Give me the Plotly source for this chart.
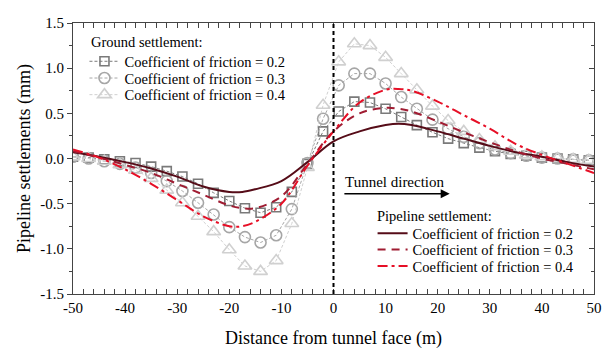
import plotly.graph_objects as go

# ---------------- data ----------------
ground_x = list(range(-50, 50, 3))  # -50, -47, ..., 49

ground_02 = [0.02, 0.01, -0.01, -0.03, -0.05, -0.09, -0.14, -0.20, -0.28, -0.38,
             -0.47, -0.55, -0.60, -0.54, -0.37, -0.06, 0.30, 0.52, 0.63, 0.62,
             0.55, 0.46, 0.37, 0.29, 0.22, 0.17, 0.12, 0.08, 0.05, 0.03,
             0.01, 0.00, -0.01, -0.02]
ground_03 = [0.02, 0.00, -0.03, -0.06, -0.10, -0.16, -0.25, -0.36, -0.49, -0.62,
             -0.76, -0.87, -0.93, -0.85, -0.56, -0.05, 0.44, 0.81, 0.94, 0.94,
             0.83, 0.68, 0.55, 0.43, 0.33, 0.24, 0.17, 0.10, 0.06, 0.03,
             0.01, 0.00, -0.01, -0.02]
ground_04 = [0.02, 0.00, -0.03, -0.07, -0.13, -0.22, -0.35, -0.49, -0.64, -0.81,
             -1.01, -1.19, -1.25, -1.13, -0.72, -0.10, 0.59, 1.07, 1.27, 1.25,
             1.12, 0.94, 0.76, 0.58, 0.42, 0.30, 0.21, 0.13, 0.08, 0.04,
             0.02, 0.00, -0.01, -0.02]

pipe_x = [-50, -45, -40, -35, -30, -25, -20, -17.5, -15, -10, -5, 0, 5, 10, 12.5, 15,
          20, 25, 30, 35, 40, 45, 50]
pipe_02 = [0.07, 0.02, -0.04, -0.11, -0.20, -0.31, -0.37, -0.37, -0.34, -0.25, -0.04,
           0.19, 0.30, 0.37, 0.385, 0.37, 0.30, 0.22, 0.14, 0.07, 0.02, -0.04, -0.09]
pipe_03 = [0.08, 0.01, -0.07, -0.16, -0.28, -0.40, -0.52, -0.55, -0.55, -0.42, -0.06,
           0.30, 0.50, 0.56, 0.55, 0.52, 0.41, 0.29, 0.18, 0.08, 0.00, -0.06, -0.12]
pipe_04 = [0.10, 0.01, -0.12, -0.28, -0.46, -0.64, -0.75, -0.75, -0.70, -0.50, -0.08,
           0.30, 0.62, 0.76, 0.77, 0.75, 0.63, 0.48, 0.33, 0.16, 0.04, -0.06, -0.16]

x_ticks = [-50, -40, -30, -20, -10, 0, 10, 20, 30, 40, 50]
x_tick_labels = ["-50", "-40", "-30", "-20", "-10", "0", "10", "20", "30", "40", "50"]
y_ticks = [-1.5, -1.0, -0.5, 0.0, 0.5, 1.0, 1.5]
y_tick_labels = ["-1.5", "-1.0", "-0.5", "0.0", "0.5", "1.0", "1.5"]

FONT = "Liberation Serif"
LEG_SIZE = 14.5

fig = go.Figure()

# one single-entry legend per series so the entries can be spaced like the original
ground_specs = [
    (ground_02, "Coefficient of friction = 0.2", "square-open", "#7a7a7a", 9, "legend", 0.8585),
    (ground_03, "Coefficient of friction = 0.3", "circle-open", "#a6a6a6", 11, "legend3", 0.7967),
    (ground_04, "Coefficient of friction = 0.4", "triangle-up-open", "#d0d0d0", 12, "legend4", 0.7353),
]
pipe_specs = [
    (pipe_02, "Coefficient of friction = 0.2", "solid", "#560c18", "legend2", 0.2243),
    (pipe_03, "Coefficient of friction = 0.3", "8px,6px", "#a01c32", "legend5", 0.1636),
    (pipe_04, "Coefficient of friction = 0.4", "10px,4px,3px,4px", "#e60f26", "legend6", 0.1029),
]

legend_layouts = {}
for ys, name, sym, col, sz, lg, ly in ground_specs:
    fig.add_trace(go.Scatter(
        x=ground_x, y=ys, name=name, mode="lines+markers",
        line=dict(color=col, width=1, dash="3px,2px"),
        marker=dict(symbol=sym, size=sz, color=col, line=dict(color=col, width=1.6)),
        legend=lg,
    ))
    legend_layouts[lg] = dict(x=0.022, y=ly, xanchor="left", yanchor="middle",
                              bgcolor="rgba(0,0,0,0)", borderwidth=0,
                              font=dict(family=FONT, size=LEG_SIZE), itemwidth=30)

for ys, name, dash, col, lg, ly in pipe_specs:
    fig.add_trace(go.Scatter(
        x=pipe_x, y=ys, name=name, mode="lines",
        line=dict(color=col, width=2, dash=dash, shape="spline", smoothing=1.0),
        legend=lg,
    ))
    legend_layouts[lg] = dict(x=0.575, y=ly, xanchor="left", yanchor="middle",
                              bgcolor="rgba(0,0,0,0)", borderwidth=0,
                              font=dict(family=FONT, size=LEG_SIZE), itemwidth=30)

# vertical tunnel-face line
fig.add_shape(type="line", xref="x", yref="y", x0=0, x1=0, y0=-1.5, y1=1.5,
              line=dict(color="black", width=2, dash="4px,3px"))

# tunnel direction arrow
fig.add_annotation(x=22.3, y=-0.39, ax=1.8, ay=-0.39, xref="x", yref="y",
                   axref="x", ayref="y", showarrow=True, arrowhead=2,
                   arrowsize=1.2, arrowwidth=1.5, arrowcolor="black", text="")
fig.add_annotation(x=1.8, y=-0.265, xref="x", yref="y", text="Tunnel direction",
                   showarrow=False, xanchor="left", yanchor="middle",
                   font=dict(family=FONT, size=15, color="black"))

# legend headings
fig.add_annotation(x=0.030, y=0.931, xref="paper", yref="paper", text="Ground settlement:",
                   showarrow=False, xanchor="left", yanchor="middle",
                   font=dict(family=FONT, size=LEG_SIZE, color="black"))
fig.add_annotation(x=0.580, y=0.288, xref="paper", yref="paper", text="Pipeline settlement:",
                   showarrow=False, xanchor="left", yanchor="middle",
                   font=dict(family=FONT, size=LEG_SIZE, color="black"))

axis_col = "#444444"
fig.update_layout(
    width=613, height=356,
    margin=dict(l=73, r=11, t=23, b=61),
    paper_bgcolor="white", plot_bgcolor="white",
    font=dict(family=FONT, size=15, color="black"),
    showlegend=True,
    xaxis=dict(
        range=[-50, 50], tickvals=x_ticks, ticktext=x_tick_labels, ticks="inside", ticklen=5,
        tickcolor=axis_col, showline=True, linecolor=axis_col, linewidth=1,
        mirror="allticks", showgrid=False, zeroline=False,
        minor=dict(ticks="inside", dtick=2, ticklen=3, tickcolor=axis_col, showgrid=False),
        title=dict(text="Distance from tunnel face (m)", font=dict(family=FONT, size=18), standoff=16),
        tickfont=dict(family=FONT, size=15),
    ),
    yaxis=dict(
        range=[-1.5, 1.5], tickvals=y_ticks, ticktext=y_tick_labels, ticks="outside", ticklen=5,
        tickcolor=axis_col, showline=True, linecolor=axis_col, linewidth=1,
        showgrid=False, zeroline=False,
        minor=dict(ticks="outside", dtick=0.25, ticklen=3, tickcolor=axis_col, showgrid=False),
        title=dict(text="Pipeline settlements (mm)", font=dict(family=FONT, size=18), standoff=4),
        tickfont=dict(family=FONT, size=15),
    ),
    yaxis2=dict(
        range=[-1.5, 1.5], overlaying="y", side="right", tickvals=y_ticks,
        ticks="inside", ticklen=5, tickcolor=axis_col, showticklabels=False,
        showline=True, linecolor=axis_col, linewidth=1, showgrid=False, zeroline=False,
        minor=dict(ticks="inside", dtick=0.25, ticklen=3, tickcolor=axis_col, showgrid=False),
    ),
    **legend_layouts,
)

# invisible trace so the right-hand axis is drawn
fig.add_trace(go.Scatter(x=[0], y=[0], yaxis="y2", mode="markers",
                         marker=dict(opacity=0), showlegend=False, hoverinfo="skip"))

fig.write_html("out.html")
